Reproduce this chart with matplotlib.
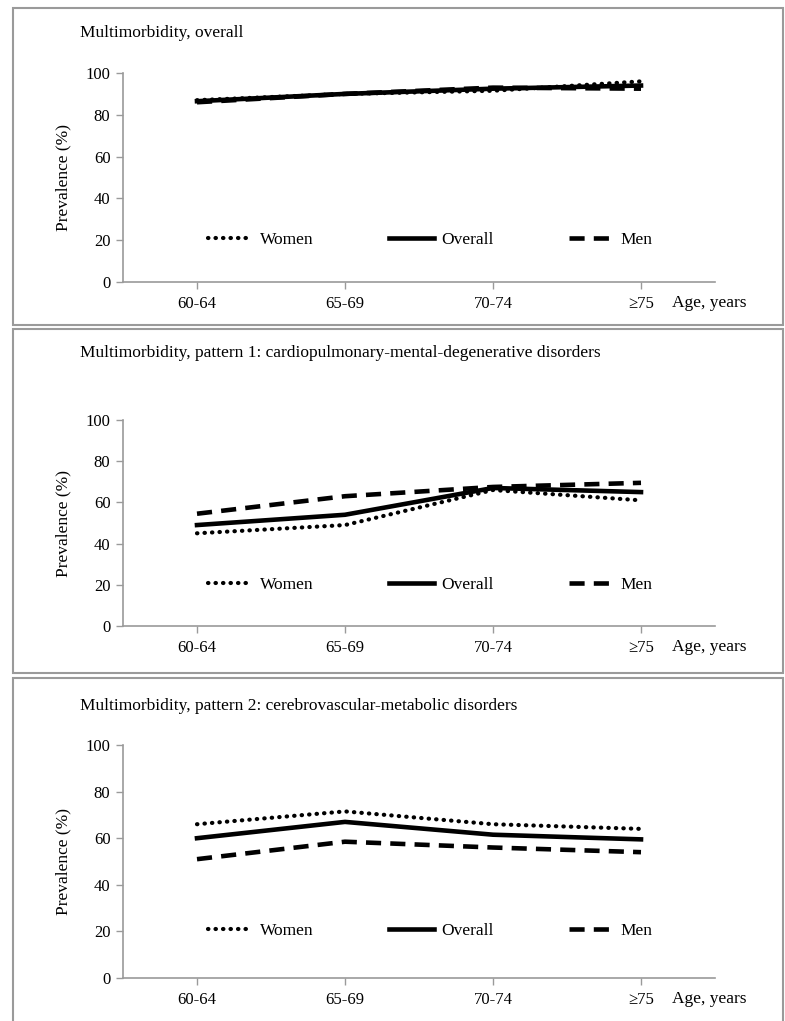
import matplotlib
matplotlib.use('Agg')
import matplotlib.pyplot as plt
from matplotlib.patches import Rectangle

plt.rcParams['font.family'] = ['Liberation Serif', 'DejaVu Serif']

# DATA
ages = ['60-64', '65-69', '70-74', '\u226575']
titles = ['Multimorbidity, overall',
          'Multimorbidity, pattern 1: cardiopulmonary-mental-degenerative disorders',
          'Multimorbidity, pattern 2: cerebrovascular-metabolic disorders']
women = [[87.0, 90.0, 91.5, 96.0],
         [45.0, 49.0, 66.0, 61.0],
         [66.0, 71.5, 66.0, 64.0]]
overall = [[86.5, 90.0, 92.5, 94.0],
           [49.0, 54.0, 67.0, 65.0],
           [60.0, 67.0, 61.5, 59.5]]
men = [[86.0, 90.0, 93.0, 92.5],
       [54.5, 63.0, 67.5, 69.5],
       [51.0, 58.5, 56.0, 54.0]]

W, H = 785, 1021
fig = plt.figure(figsize=(W / 100, H / 100), dpi=100)

def fx(px):
    return px / W

def fy(py):
    return 1 - py / H

# panel boxes (pixel coords: top, bottom) and axes (y of 100, y of 0)
boxes = [(8, 325), (329, 673), (678, 1030)]
axes_px = [(73, 282), (420, 626), (745, 978)]
title_y = [33, 353, 706]

grey = '#9a9a9a'
x = list(range(len(ages)))

for i in range(3):
    top, bot = boxes[i]
    fig.patches.append(Rectangle((fx(13), fy(bot)), fx(783) - fx(13), fy(top) - fy(bot),
                                 transform=fig.transFigure, fill=False,
                                 edgecolor=grey, linewidth=1.5))
    y100, y0 = axes_px[i]
    ax = fig.add_axes([fx(123), fy(y0), fx(715) - fx(123), (y0 - y100) / H])
    fig.text(fx(80), fy(title_y[i]), titles[i], fontsize=12.5, va='center', ha='left')

    ax.plot(x, women[i], color='black', lw=3, linestyle=(0, (0.1, 1.7)),
            dash_capstyle='round', label='Women')
    ax.plot(x, overall[i], color='black', lw=3.3, linestyle='-', label='Overall')
    ax.plot(x, men[i], color='black', lw=3.3, linestyle=(0, (3.3, 2.0)), label='Men')

    ax.set_xlim(-0.5, 3.5)
    ax.set_ylim(0, 100)
    ax.set_yticks([0, 20, 40, 60, 80, 100])
    ax.set_xticks(x)
    ax.set_xticklabels(ages)
    ax.tick_params(axis='both', labelsize=12, color=grey, length=5, width=1)
    ax.tick_params(axis='x', pad=5)
    ax.tick_params(axis='y', pad=4)
    for s in ['top', 'right']:
        ax.spines[s].set_visible(False)
    for s in ['left', 'bottom']:
        ax.spines[s].set_color(grey)
        ax.spines[s].set_linewidth(1.2)
    ax.set_ylabel('Prevalence (%)', fontsize=12.5, labelpad=10)
    ax.annotate('Age, years', xy=(0.927, 0), xycoords='axes fraction',
                xytext=(0, -15), textcoords='offset points', fontsize=12.5,
                ha='left', va='center')

    ax.legend(loc='center left', bbox_to_anchor=(0.143, 0.2), ncol=3,
              frameon=False, fontsize=12.5, handlelength=2.6,
              handletextpad=0.4, columnspacing=4.35, borderpad=0,
              borderaxespad=0)

fig.savefig('out.png', dpi=100)
